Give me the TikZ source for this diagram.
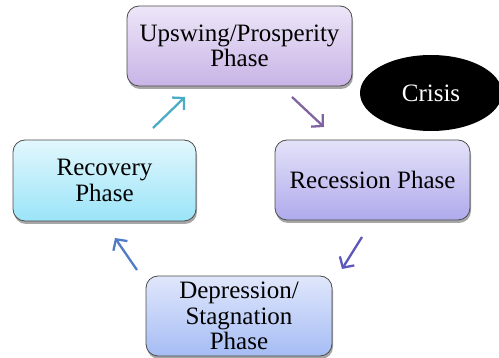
\documentclass[tikz,border=0pt]{standalone}
\usepackage{fontspec}
\setmainfont{Liberation Serif}
\usetikzlibrary{arrows.meta,shapes.geometric,shadows}
\definecolor{upTop}{HTML}{EDE6F8}
\definecolor{upBot}{HTML}{C8B4E6}
\definecolor{reTop}{HTML}{E4E2F9}
\definecolor{reBot}{HTML}{AFAAEC}
\definecolor{rcTop}{HTML}{E2F7FD}
\definecolor{rcBot}{HTML}{9AE4F8}
\definecolor{dpTop}{HTML}{E0E7FB}
\definecolor{dpBot}{HTML}{A5BCF4}
\definecolor{arCyan}{HTML}{4BACC6}
\definecolor{arPurple}{HTML}{8064A2}
\definecolor{arViolet}{HTML}{5D58BC}
\definecolor{arBlue}{HTML}{4F7BC8}
\tikzset{
  phasebox/.style={draw=black!70, line width=0.8pt, rounded corners=12pt,
    minimum height=80pt, align=center, inner sep=0pt,
    font=\fontsize{25}{25.5}\selectfont,
    drop shadow={shadow xshift=1pt, shadow yshift=-3pt, opacity=0.35, fill=black}},
  cyclearrow/.style={line width=2.3pt, -{Straight Barb[length=8pt,width=17pt,line width=2.3pt]}}
}
\begin{document}
\begin{tikzpicture}[x=1pt,y=-1pt]
\useasboundingbox (0,0) rectangle (499,358);
\node[phasebox, minimum width=225pt, top color=upTop, bottom color=upBot] (up) at (239.5,46) {Upswing/Prosperity\\Phase};
\node[phasebox, minimum width=195pt, top color=reTop, bottom color=reBot] (rec) at (372.5,180) {Recession Phase};
\node[phasebox, minimum width=183pt, minimum height=81pt, top color=rcTop, bottom color=rcBot] (rcv) at (104.5,180.5) {Recovery\\Phase};
\node[phasebox, minimum width=186pt, top color=dpTop, bottom color=dpBot] (dep) at (239,316) {Depression/\\Stagnation\\Phase};
\node[ellipse, fill=black, text=white, minimum width=142pt, minimum height=76pt, inner sep=0pt,
  font=\fontsize{25}{25.5}\selectfont] (crisis) at (431,93) {Crisis};
\coordinate (a1s) at (153,128); \coordinate (a1e) at (185,97);
\coordinate (a2s) at (292,97);  \coordinate (a2e) at (324,127);
\coordinate (a3s) at (362,237); \coordinate (a3e) at (342,269);
\coordinate (a4s) at (137,270); \coordinate (a4e) at (115,238);
\draw[cyclearrow, arCyan] (a1s) -- (a1e);
\draw[cyclearrow, arPurple] (a2s) -- (a2e);
\draw[cyclearrow, arViolet] (a3s) -- (a3e);
\draw[cyclearrow, arBlue] (a4s) -- (a4e);
\end{tikzpicture}
\end{document}
